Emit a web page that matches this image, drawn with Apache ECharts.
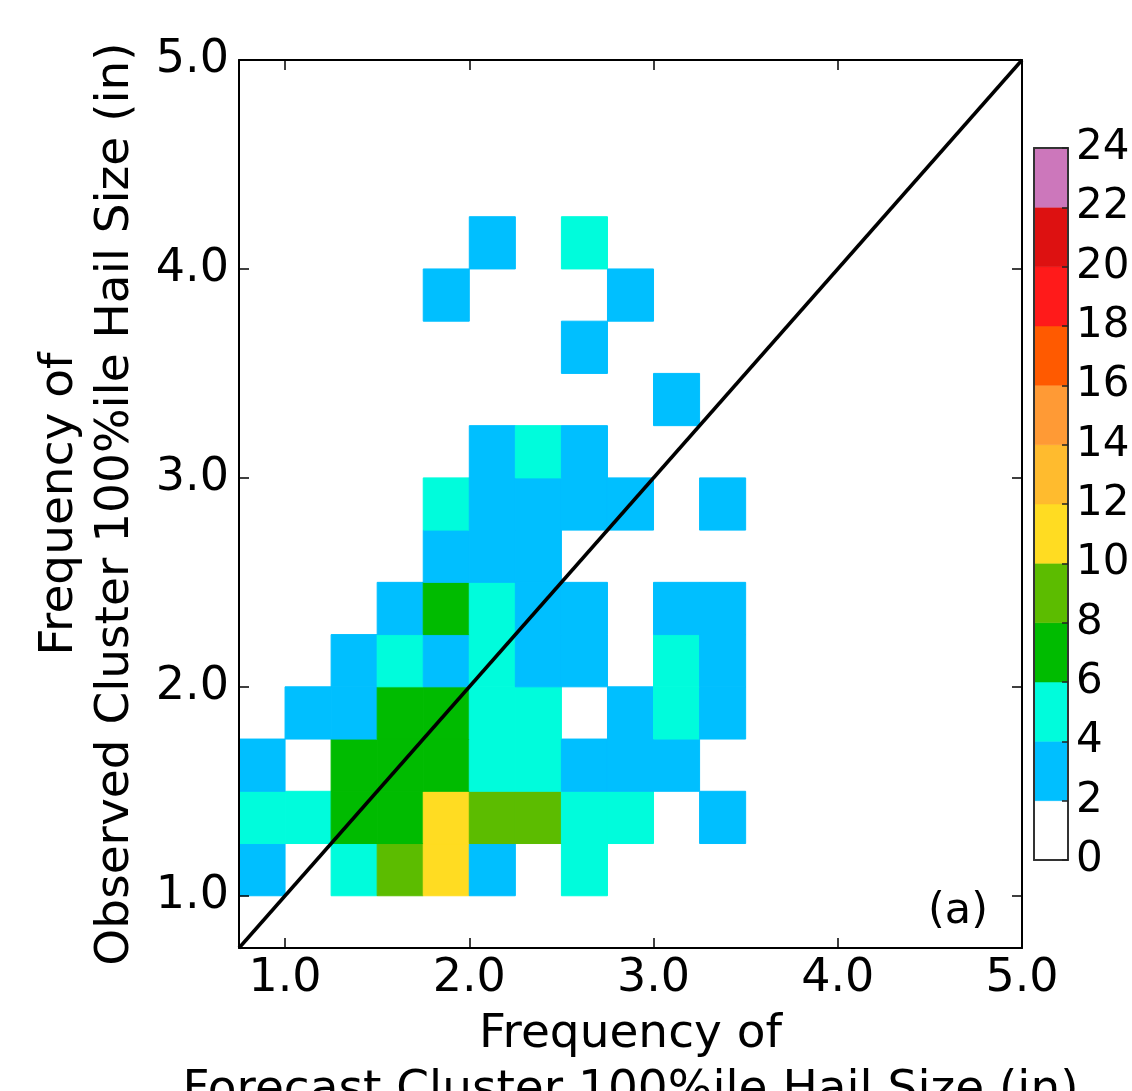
<!DOCTYPE html>
<html>
<head>
<meta charset="utf-8">
<script src="https://cdn.jsdelivr.net/npm/echarts@6/dist/echarts.min.js"></script>
<style>
  html, body { margin: 0; padding: 0; background: #fff; }
  #chart { width: 1132px; height: 1091px; }
</style>
</head>
<body>
<div id="chart"></div>
<script>
// ---------- data ----------
const xTicks = [1.0, 2.0, 3.0, 4.0, 5.0];
const yTicks = [1.0, 2.0, 3.0, 4.0, 5.0];
const colorbarTicks = [0, 2, 4, 6, 8, 10, 12, 14, 16, 18, 20, 22, 24];
const levelColors = ['#ffffff', '#00bfff', '#00fcdc', '#00bb00', '#5cbc00', '#ffdc22',
                     '#ffbb2e', '#ff9a35', '#ff5a00', '#ff1a1a', '#dd1111', '#cc77bb'];
const binWidth = 0.25;
// lower edges of the forecast (x) bins and observed (y) bins
const xBinStarts = [0.75, 1.0, 1.25, 1.5, 1.75, 2.0, 2.25, 2.5, 2.75, 3.0, 3.25];
const yBinStarts = [1.0, 1.25, 1.5, 1.75, 2.0, 2.25, 2.5, 2.75, 3.0, 3.25, 3.5, 3.75, 4.0];
// counts per cell, one row per y bin (bottom to top), one column per x bin
const counts = [
  [3, 0, 5, 9, 11, 3, 0, 5, 0, 0, 0],
  [5, 4, 7, 7, 11, 9, 8, 5, 4, 0, 3],
  [2, 0, 7, 6, 7, 5, 4, 3, 2, 3, 0],
  [0, 3, 2, 7, 6, 5, 4, 0, 3, 4, 2],
  [0, 0, 3, 4, 3, 5, 3, 2, 0, 5, 3],
  [0, 0, 0, 2, 7, 4, 3, 2, 0, 2, 3],
  [0, 0, 0, 0, 3, 2, 3, 0, 0, 0, 0],
  [0, 0, 0, 0, 4, 3, 2, 3, 2, 0, 3],
  [0, 0, 0, 0, 0, 2, 5, 3, 0, 0, 0],
  [0, 0, 0, 0, 0, 0, 0, 0, 0, 2, 0],
  [0, 0, 0, 0, 0, 0, 0, 3, 0, 0, 0],
  [0, 0, 0, 0, 2, 0, 0, 0, 2, 0, 0],
  [0, 0, 0, 0, 0, 3, 0, 4, 0, 0, 0]
];
const diagonal = [[0.75, 0.75], [5.0, 5.0]];
const xName = 'Frequency of\nForecast Cluster 100%ile Hail Size (in)';
const yName = 'Frequency of\nObserved Cluster 100%ile Hail Size (in)';
const panelLabel = '(a)';

// ---------- build ----------
const FONT = 'DejaVu Sans';
const cells = [];
counts.forEach((row, r) => row.forEach((v, c) => {
  if (v > 0) cells.push([xBinStarts[c], yBinStarts[r], v]);
}));
const pieces = [];
for (let i = 0; i < levelColors.length; i++) {
  pieces.push({ gte: colorbarTicks[i], lt: colorbarTicks[i + 1], color: levelColors[i] });
}
const barSegments = [];
for (let i = 0; i < levelColors.length; i++) {
  barSegments.push([colorbarTicks[i], colorbarTicks[i + 1], i]);
}

const frameLine = { show: true, onZero: false, lineStyle: { color: '#000', width: 2 } };
const tickStyle = { color: '#000', width: 1.5 };
const tickFont = { fontFamily: FONT, fontSize: 46, color: '#000' };

const chart = echarts.init(document.getElementById('chart'), null, { renderer: 'canvas' });
chart.setOption({
  backgroundColor: '#fff',
  animation: false,
  grid: [
    { left: 239, top: 60, width: 783, height: 888, outerBoundsMode: 'none', containLabel: false },
    { left: 1034, top: 148, width: 34, height: 712, outerBoundsMode: 'none', containLabel: false }
  ],
  visualMap: {
    type: 'piecewise', show: false, seriesIndex: 0, dimension: 2, pieces: pieces
  },
  xAxis: [
    {
      gridIndex: 0, type: 'value', min: 0.75, max: 5.0, position: 'bottom', z: 5,
      axisLine: frameLine,
      axisTick: { show: true, inside: true, length: 10, customValues: xTicks, lineStyle: tickStyle },
      axisLabel: Object.assign({ customValues: xTicks, margin: 8, formatter: v => v.toFixed(1) }, tickFont),
      splitLine: { show: false },
      name: xName, nameLocation: 'middle', nameGap: 46,
      nameTextStyle: { fontFamily: FONT, fontSize: 47, lineHeight: 56, color: '#000' }
    },
    {
      gridIndex: 0, type: 'value', min: 0.75, max: 5.0, position: 'top', z: 5,
      axisLine: frameLine,
      axisTick: { show: true, inside: true, length: 10, customValues: xTicks, lineStyle: tickStyle },
      axisLabel: { show: false }, splitLine: { show: false }
    },
    {
      gridIndex: 1, type: 'value', min: 0, max: 1, position: 'bottom', z: 5,
      axisLine: { show: true, onZero: false, lineStyle: { color: '#333', width: 2 } },
      axisTick: { show: false }, axisLabel: { show: false }, splitLine: { show: false }
    },
    {
      gridIndex: 1, type: 'value', min: 0, max: 1, position: 'top', z: 5,
      axisLine: { show: true, onZero: false, lineStyle: { color: '#333', width: 2 } },
      axisTick: { show: false }, axisLabel: { show: false }, splitLine: { show: false }
    }
  ],
  yAxis: [
    {
      gridIndex: 0, type: 'value', min: 0.75, max: 5.0, position: 'left', z: 5,
      axisLine: frameLine,
      axisTick: { show: true, inside: true, length: 10, customValues: yTicks, lineStyle: tickStyle },
      axisLabel: Object.assign({ customValues: yTicks, margin: 10, formatter: v => v.toFixed(1) }, tickFont),
      splitLine: { show: false },
      name: yName, nameLocation: 'middle', nameGap: 95, nameRotate: 90,
      nameTextStyle: { fontFamily: FONT, fontSize: 47, lineHeight: 56, color: '#000' }
    },
    {
      gridIndex: 0, type: 'value', min: 0.75, max: 5.0, position: 'right', z: 5,
      axisLine: frameLine,
      axisTick: { show: true, inside: true, length: 10, customValues: yTicks, lineStyle: tickStyle },
      axisLabel: { show: false }, splitLine: { show: false }
    },
    {
      gridIndex: 1, type: 'value', min: 0, max: 24, interval: 2, position: 'right', z: 5,
      axisLine: { show: true, onZero: false, lineStyle: { color: '#333', width: 2 } },
      axisTick: { show: true, inside: true, length: 6, lineStyle: { color: '#222', width: 1.5 } },
      axisLabel: { margin: 8, fontFamily: FONT, fontSize: 42, color: '#000' },
      splitLine: { show: false }
    },
    {
      gridIndex: 1, type: 'value', min: 0, max: 24, position: 'left', z: 5,
      axisLine: { show: true, onZero: false, lineStyle: { color: '#333', width: 2 } },
      axisTick: { show: false }, axisLabel: { show: false }, splitLine: { show: false }
    }
  ],
  series: [
    {
      type: 'custom', xAxisIndex: 0, yAxisIndex: 0, data: cells, z: 2,
      renderItem: function (params, api) {
        const x0 = api.value(0), y0 = api.value(1);
        const p0 = api.coord([x0, y0]);
        const p1 = api.coord([x0 + binWidth, y0 + binWidth]);
        return {
          type: 'rect',
          shape: { x: p0[0], y: p1[1], width: p1[0] - p0[0], height: p0[1] - p1[1] },
          style: { fill: api.visual('color'), stroke: api.visual('color'), lineWidth: 1 }
        };
      }
    },
    {
      type: 'line', xAxisIndex: 0, yAxisIndex: 0, data: diagonal, z: 4,
      symbol: 'none', lineStyle: { color: '#000', width: 3.5 }
    },
    {
      type: 'custom', xAxisIndex: 2, yAxisIndex: 2, data: barSegments, z: 2,
      renderItem: function (params, api) {
        const lo = api.value(0), hi = api.value(1);
        const p0 = api.coord([0, lo]);
        const p1 = api.coord([1, hi]);
        const col = levelColors[params.dataIndex];
        return {
          type: 'rect',
          shape: { x: p0[0], y: p1[1], width: p1[0] - p0[0], height: p0[1] - p1[1] },
          style: { fill: col, stroke: col, lineWidth: 0.5 }
        };
      }
    }
  ],
  graphic: [
    {
      type: 'text', x: 958, y: 912, z: 10,
      style: { text: panelLabel, fontFamily: FONT, fontSize: 43, fill: '#000',
               align: 'center', verticalAlign: 'middle' }
    }
  ]
});
</script>
</body>
</html>
